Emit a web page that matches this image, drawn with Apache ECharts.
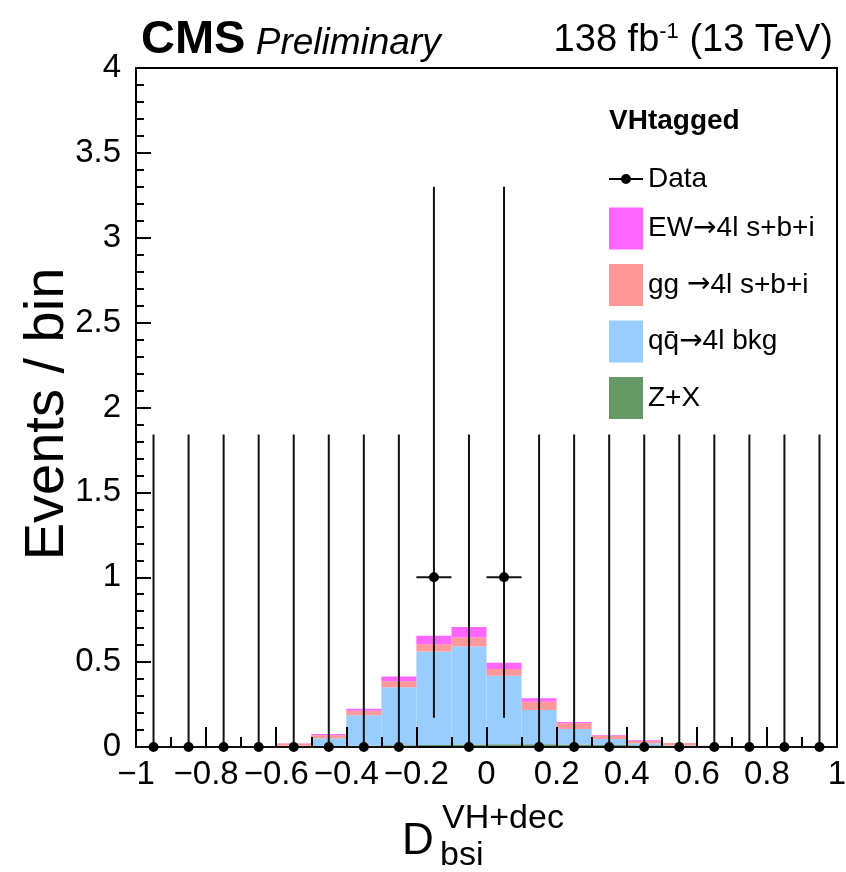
<!DOCTYPE html>
<html>
<head>
<meta charset="utf-8">
<script src="https://cdn.jsdelivr.net/npm/echarts@6/dist/echarts.min.js"></script>
<style>
  html, body { margin: 0; padding: 0; background: #fff; }
  #chart { width: 846px; height: 872px; }
</style>
</head>
<body>
<div id="chart"></div>
<script>
// Bin edges of the D_bsi^{VH+dec} distribution (20 bins of width 0.1)
const binEdges = [-1, -0.9, -0.8, -0.7, -0.6, -0.5, -0.4, -0.3, -0.2, -0.1, 0,
                  0.1, 0.2, 0.3, 0.4, 0.5, 0.6, 0.7, 0.8, 0.9, 1];

// Expected events per bin, stacked bottom to top
const zxVals = [0.004, 0.004, 0.004, 0.004, 0.005, 0.006, 0.008, 0.010, 0.012, 0.014,
                0.016, 0.016, 0.014, 0.012, 0.010, 0.008, 0.006, 0.005, 0.004, 0.004];
const qqVals = [0, 0, 0, 0, 0.003, 0.045, 0.179, 0.342, 0.551, 0.578,
                0.403, 0.202, 0.092, 0.035, 0.012, 0.003, 0, 0, 0, 0];
const ggVals = [0, 0, 0, 0, 0.012, 0.018, 0.026, 0.036, 0.043, 0.053,
                0.041, 0.048, 0.034, 0.020, 0.013, 0.012, 0.002, 0, 0, 0];
const ewVals = [0, 0, 0, 0, 0.002, 0.008, 0.012, 0.027, 0.049, 0.062,
                0.036, 0.021, 0.008, 0.004, 0.005, 0.001, 0, 0, 0, 0];

// Observed events and Poisson (Garwood) uncertainties
const dataCounts  = [0, 0, 0, 0, 0, 0, 0, 0, 1, 0, 1, 0, 0, 0, 0, 0, 0, 0, 0, 0];
const dataErrLow  = [0, 0, 0, 0, 0, 0, 0, 0, 0.827, 0, 0.827, 0, 0, 0, 0, 0, 0, 0, 0, 0];
const dataErrHigh = [1.841, 1.841, 1.841, 1.841, 1.841, 1.841, 1.841, 1.841, 2.300, 1.841,
                     2.300, 1.841, 1.841, 1.841, 1.841, 1.841, 1.841, 1.841, 1.841, 1.841];

const xTicks = { min: -1, max: 1, step: 0.2 };
const yTicks = { min: 0, max: 4, step: 0.5 };

const FONT = '"Liberation Sans", Arial, Helvetica, sans-serif';
const ARROW_FONT = '"DejaVu Sans", sans-serif';

const NAME_EW = 'EW\u21924l s+b+i';
const NAME_GG = 'gg \u21924l s+b+i';
const NAME_QQ = 'qq\u0304\u21924l bkg';
const NAME_ZX = 'Z+X';

const procs = [
  { name: NAME_ZX, vals: zxVals, color: '#669966' },
  { name: NAME_QQ, vals: qqVals, color: '#99ccff' },
  { name: NAME_GG, vals: ggVals, color: '#ff9999' },
  { name: NAME_EW, vals: ewVals, color: '#ff66ff' }
];

// Cumulative stacking of the expected yields
const cumulative = new Array(binEdges.length - 1).fill(0);
const stackSeries = procs.map(p => {
  const data = p.vals.map((v, i) => {
    const base = cumulative[i];
    cumulative[i] += v;
    return [binEdges[i], binEdges[i + 1], base, cumulative[i]];
  });
  return {
    name: p.name,
    type: 'custom',
    itemStyle: { color: p.color },
    encode: { x: [0, 1], y: [2, 3] },
    data: data,
    z: 2,
    renderItem: (params, api) => {
      const a = api.coord([api.value(0), api.value(3)]);
      const b = api.coord([api.value(1), api.value(2)]);
      return {
        type: 'rect',
        shape: { x: a[0], y: a[1], width: b[0] - a[0], height: b[1] - a[1] },
        style: { fill: p.color }
      };
    }
  };
});

const dataPoints = dataCounts.map((c, i) => [
  (binEdges[i] + binEdges[i + 1]) / 2, c,
  c - dataErrLow[i], c + dataErrHigh[i],
  binEdges[i], binEdges[i + 1]
]);

const dataSeries = {
  name: 'Data',
  type: 'custom',
  itemStyle: { color: '#000' },
  encode: { x: 0, y: 1 },
  data: dataPoints,
  z: 20,
  renderItem: (params, api) => {
    const p = api.coord([api.value(0), api.value(1)]);
    const lo = api.coord([api.value(0), api.value(2)]);
    const hi = api.coord([api.value(0), api.value(3)]);
    const l = api.coord([api.value(4), api.value(1)]);
    const r = api.coord([api.value(5), api.value(1)]);
    const line = { stroke: '#111', lineWidth: 2 };
    return {
      type: 'group',
      children: [
        { type: 'line', shape: { x1: lo[0], y1: lo[1], x2: hi[0], y2: hi[1] }, style: line },
        { type: 'line', shape: { x1: l[0], y1: l[1], x2: r[0], y2: r[1] }, style: line },
        { type: 'circle', shape: { cx: p[0], cy: p[1], r: 5 }, style: { fill: '#000' } }
      ]
    };
  }
};

const fmt = v => {
  const s = String(+(+v).toFixed(1));
  return s.replace('-', '\u2212');
};

// Legend labels with the arrow set in a font that has a full-size glyph
const legendFmt = name => {
  const parts = name.split('\u2192');
  if (parts.length < 2) return '{t|' + name + '}';
  return '{t|' + parts[0] + '}{r|\u2192}{t|' + parts[1] + '}';
};

const chart = echarts.init(document.getElementById('chart'), null, { renderer: 'canvas' });

chart.setOption({
  animation: false,
  backgroundColor: '#fff',
  title: [
    {
      left: 136, top: 12,
      text: '{a|CMS}{b| Preliminary}',
      textStyle: {
        fontWeight: 'normal',
        rich: {
          a: { fontFamily: FONT, fontWeight: 'bold', fontSize: 47, color: '#000' },
          b: { fontFamily: FONT, fontStyle: 'italic', fontWeight: 'normal', fontSize: 37, color: '#000', padding: [6, 0, 0, 0] }
        }
      }
    },
    {
      right: 8, top: 16,
      text: '{n|138 fb}{s|-1}{n| (13 TeV)}',
      textStyle: {
        fontWeight: 'normal',
        rich: {
          n: { fontFamily: FONT, fontWeight: 'normal', fontSize: 38, color: '#000' },
          s: { fontFamily: FONT, fontWeight: 'normal', fontSize: 22, color: '#000', verticalAlign: 'top', padding: [0, 0, 18, 0] }
        }
      }
    }
  ],
  grid: {
    left: 136, top: 68, width: 701, height: 679,
    outerBoundsMode: 'none',
    containLabel: false,
    show: true, borderColor: '#000', borderWidth: 2, backgroundColor: 'transparent'
  },
  legend: {
    orient: 'vertical',
    left: 609, top: 165,
    itemWidth: 34, itemHeight: 42, itemGap: 14.5,
    padding: 0,
    selectedMode: false,
    formatter: legendFmt,
    textStyle: {
      fontFamily: FONT, fontSize: 28, color: '#000',
      rich: {
        t: { fontFamily: FONT, fontSize: 28, color: '#000' },
        r: { fontFamily: ARROW_FONT, fontSize: 28, color: '#000' }
      }
    },
    data: [
      { name: 'Data', icon: 'path://M0,20 L34,20 L34,22 L0,22 Z M17,16 A5,5 0 1 1 16.99,16 Z' },
      { name: NAME_EW, icon: 'rect' },
      { name: NAME_GG, icon: 'rect' },
      { name: NAME_QQ, icon: 'rect' },
      { name: NAME_ZX, icon: 'rect' }
    ]
  },
  xAxis: {
    type: 'value',
    min: xTicks.min, max: xTicks.max, interval: xTicks.step,
    z: 10,
    axisLine: { show: true, onZero: false, lineStyle: { color: '#000', width: 2 } },
    axisTick: { show: true, inside: true, length: 20, lineStyle: { color: '#000', width: 2 } },
    minorTick: { show: true, splitNumber: 2, length: 10, lineStyle: { color: '#000', width: 2 } },
    splitLine: { show: false },
    axisLabel: { formatter: fmt, fontFamily: FONT, fontSize: 33, color: '#000', margin: 11 }
  },
  yAxis: {
    type: 'value',
    min: yTicks.min, max: yTicks.max, interval: yTicks.step,
    z: 10,
    axisLine: { show: true, onZero: false, lineStyle: { color: '#000', width: 2 } },
    axisTick: { show: true, inside: true, length: 15, lineStyle: { color: '#000', width: 2 } },
    minorTick: { show: true, splitNumber: 5, length: 8, lineStyle: { color: '#000', width: 2 } },
    splitLine: { show: false },
    axisLabel: { formatter: fmt, fontFamily: FONT, fontSize: 33, color: '#000', margin: 15 }
  },
  graphic: [
    {
      type: 'text', x: 48, y: 414, rotation: Math.PI / 2,
      style: {
        text: 'Events / bin', fontFamily: FONT, fontSize: 56, fill: '#000',
        align: 'center', verticalAlign: 'middle'
      }
    },
    {
      type: 'text', left: 609, top: 107,
      style: { text: 'VHtagged', fontFamily: FONT, fontWeight: 'bold', fontSize: 28, fill: '#000' }
    },
    {
      type: 'group',
      left: 402, top: 802,
      children: [
        { type: 'text', x: 0, y: 18, style: { text: 'D', fontFamily: FONT, fontSize: 44, fill: '#000' } },
        { type: 'text', x: 40, y: 0, style: { text: 'VH+dec', fontFamily: FONT, fontSize: 34, fill: '#000' } },
        { type: 'text', x: 38, y: 37, style: { text: 'bsi', fontFamily: FONT, fontSize: 34, fill: '#000' } }
      ]
    }
  ],
  series: [...stackSeries, dataSeries]
});
</script>
</body>
</html>
